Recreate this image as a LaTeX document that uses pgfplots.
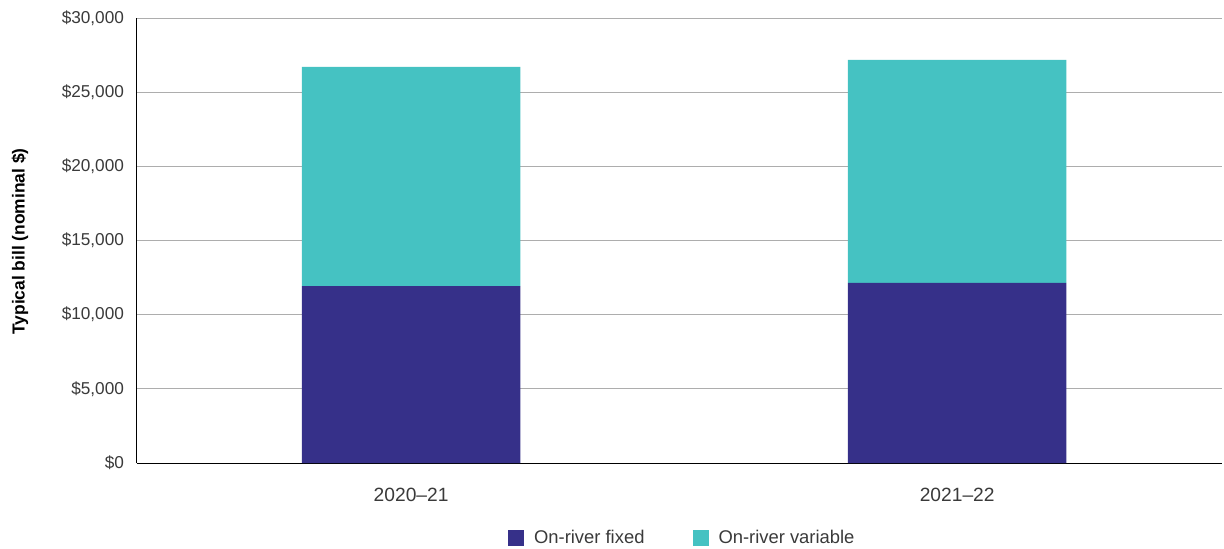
\documentclass[border=0pt]{standalone}
\usepackage{pgfplots}
\pgfplotsset{compat=1.18}
\usepackage{fontspec}
\setmainfont{Liberation Sans}
\definecolor{fixedc}{HTML}{363089}
\definecolor{varc}{HTML}{45C2C2}
\definecolor{txt}{HTML}{3A3A3A}
\begin{document}
\begin{tikzpicture}
\path[use as bounding box] (-68.5pt,-42.5pt) rectangle (543.5pt,231.5pt);
\begin{axis}[
  scale only axis,
  width=542.5pt, height=222.5pt,
  ybar stacked,
  bar width=0.4,
  xmin=-0.502, xmax=1.485,
  ymin=0, ymax=30000,
  scaled y ticks=false,
  xtick={0,1},
  xticklabels={2020--21,2021--22},
  ytick={0,5000,10000,15000,20000,25000,30000},
  yticklabels={{\$0},{\$5,000},{\$10,000},{\$15,000},{\$20,000},{\$25,000},{\$30,000}},
  major tick length=0pt,
  tick label style={font=\fontsize{8.6}{10}\selectfont, text=txt},
  xticklabel style={yshift=-9pt, font=\fontsize{9.6}{11}\selectfont},
  yticklabel style={xshift=-3pt},
  ymajorgrids,
  grid style={draw=black!32, line width=0.5pt},
  axis x line*=bottom,
  axis y line*=left,
  axis line style={draw=black, line width=0.5pt, -},
  ylabel={\textbf{Typical bill (nominal \$)}},
  every axis y label/.style={at={(axis description cs:0,0.5)}, xshift=-58.5pt, yshift=-0.5pt, rotate=90, anchor=center, font=\fontsize{8.7}{10}\selectfont, text=black},
  legend columns=2,
  legend style={at={(0.5035,-0.1685)}, anchor=center, draw=none, fill=none,
    font=\fontsize{9.2}{11}\selectfont, text=txt,
    /tikz/every odd column/.append style={column sep=3pt},
    /tikz/every even column/.append style={column sep=22pt}},
  legend image code/.code={\fill[#1] (0pt,-4pt) rectangle (8pt,4pt);},
]
\addplot[fill=fixedc, draw=none] coordinates {(0,11930) (1,12140)};
\addlegendentry{On-river fixed}
\addplot[fill=varc, draw=none] coordinates {(0,14770) (1,15030)};
\addlegendentry{On-river variable}
\end{axis}
\end{tikzpicture}
\end{document}
